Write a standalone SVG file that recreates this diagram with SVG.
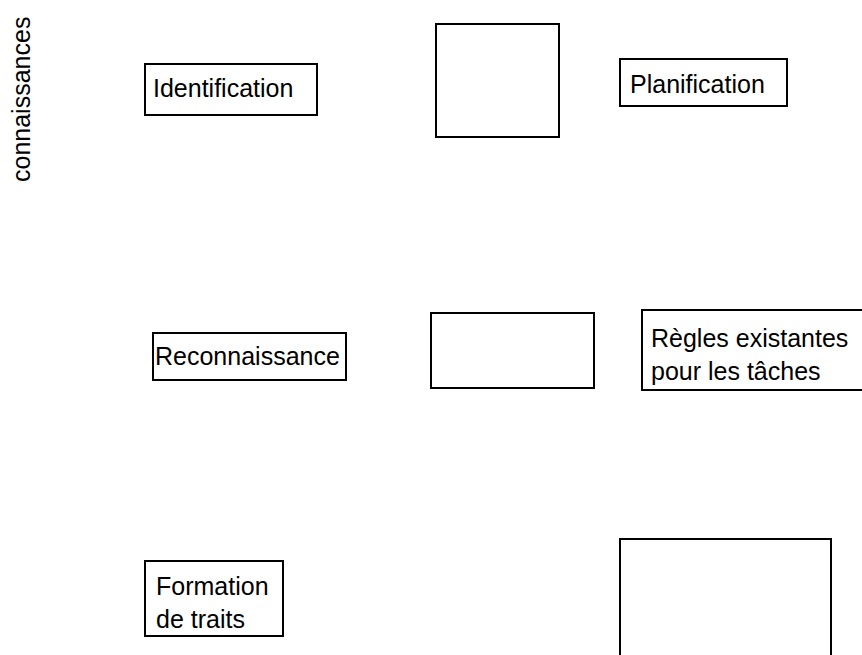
<svg xmlns="http://www.w3.org/2000/svg" width="862" height="655" viewBox="0 0 862 655">
<style>
.box{fill:#fff;stroke:#000;stroke-width:2}
.t{font-family:"Liberation Sans",Arial,sans-serif;font-size:25px;fill:#000}
</style>
<rect x="0" y="0" width="862" height="655" fill="#fff"/>
<g id="label-connaissances">
<text class="t" transform="translate(30,182) rotate(-90)" x="0" y="0">connaissances</text>
</g>
<g id="identification">
<rect class="box" x="145" y="64" width="172" height="51"/>
<text class="t" x="153" y="97">Identification</text>
</g>
<g id="box-top-middle">
<rect class="box" x="436" y="24" width="123" height="113"/>
</g>
<g id="planification">
<rect class="box" x="620" y="59" width="167" height="47"/>
<text class="t" x="630" y="93">Planification</text>
</g>
<g id="reconnaissance">
<rect class="box" x="153" y="333" width="193" height="47"/>
<text class="t" x="155" y="365">Reconnaissance</text>
</g>
<g id="box-middle">
<rect class="box" x="431" y="313" width="163" height="75"/>
</g>
<g id="regles">
<rect class="box" x="642" y="310" width="260" height="80"/>
<text class="t" x="651" y="347">Règles existantes</text>
<text class="t" x="651" y="380">pour les tâches</text>
</g>
<g id="formation">
<rect class="box" x="145" y="561" width="138" height="75"/>
<text class="t" x="156" y="595">Formation</text>
<text class="t" x="156" y="628">de traits</text>
</g>
<g id="box-bottom-right">
<rect class="box" x="620" y="539" width="211" height="140"/>
</g>
<g id="connectors"></g>
</svg>
